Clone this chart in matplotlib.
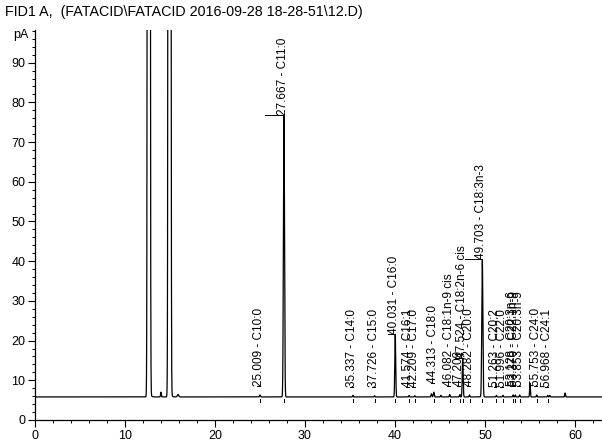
import numpy as np
import matplotlib
matplotlib.use("Agg")
import matplotlib.pyplot as plt
from matplotlib.ticker import MultipleLocator

plt.rcParams['font.family'] = ['Liberation Sans', 'DejaVu Sans']

title = "FID1 A,  (FATACID\\FATACID 2016-09-28 18-28-51\\12.D)"
y_unit = "pA"
baseline = 5.8

# Detected peaks: retention time (min), height above baseline (pA), width (min)
peak_rt = [12.65, 14.0, 14.95, 15.9, 25.009, 27.667, 35.337, 37.726, 40.031,
           41.574, 42.209, 44.05, 44.313, 45.1, 46.082, 47.209, 47.524, 48.282,
           49.703, 51.263, 51.996, 53.128, 53.370, 53.853, 55.0, 55.753,
           56.968, 57.2, 58.9]
peak_h = [4000, 1.2, 4000, 0.6, 0.5, 70.8, 0.4, 0.3, 15.6,
          0.4, 0.3, 0.8, 1.2, 0.4, 0.6, 0.6, 9.8, 0.5,
          34.4, 0.4, 0.4, 0.5, 0.5, 0.5, 3.5, 0.5,
          0.4, 0.4, 1.0]
peak_w = [0.07, 0.04, 0.07, 0.08, 0.05, 0.06, 0.04, 0.04, 0.05,
          0.04, 0.04, 0.05, 0.05, 0.04, 0.04, 0.04, 0.05, 0.04,
          0.06, 0.04, 0.04, 0.04, 0.04, 0.04, 0.04, 0.04,
          0.04, 0.04, 0.04]

# Labelled (identified) peaks
label_rt = [25.009, 27.667, 35.337, 37.726, 40.031, 41.574, 42.209, 44.313,
            46.082, 47.209, 47.524, 48.282, 49.703, 51.263, 51.996, 53.128,
            53.370, 53.853, 55.753, 56.968]
label_name = ["C10:0", "C11:0", "C14:0", "C15:0", "C16:0", "C16:1", "C17:0",
              "C18:0", "C18:1n-9 cis", "", "C18:2n-6 cis", "C20:0",
              "C18:3n-3", "C20:2", "C22:0", "C20:3n-6", "C22:1n-9",
              "C20:3n-9", "C24:0", "C24:1"]

# ---------------------------------------------------------------------------
t = np.linspace(0, 63, 12601)
signal = np.full_like(t, baseline)
for rt, h, w in zip(peak_rt, peak_h, peak_w):
    signal += h * np.exp(-0.5 * ((t - rt) / w) ** 2)
# solvent tailing after the two large solvent peaks
for rt in (peak_rt[0], peak_rt[2]):
    m = t > rt
    signal[m] += 2.5 * np.exp(-(t[m] - rt) / 0.12)

fig = plt.figure(figsize=(6.02, 4.43), dpi=100)
ax = fig.add_axes([0.058, 0.052, 0.942, 0.880])
ax.plot(t, signal, color='black', lw=0.9)

ax.set_xlim(0, 63)
ax.set_ylim(0, 98.2)
ax.spines['top'].set_visible(False)
ax.spines['right'].set_visible(False)
for s in ('left', 'bottom'):
    ax.spines[s].set_linewidth(0.9)
ax.xaxis.set_major_locator(MultipleLocator(10))
ax.xaxis.set_minor_locator(MultipleLocator(2))
ax.yaxis.set_major_locator(MultipleLocator(10))
ax.yaxis.set_minor_locator(MultipleLocator(2))
ax.tick_params(which='major', length=5, width=0.8, labelsize=9, pad=2)
ax.tick_params(which='minor', length=2.5, width=0.7)

ax.text(-0.012, 97.0, y_unit, transform=ax.get_yaxis_transform(), ha='right',
        va='center', fontsize=9)
fig.text(0.008, 0.972, title, ha='left', va='center', fontsize=10.3)

def height_at(x):
    return float(np.interp(x, t, signal))

raise_levels = {47.524: 15.6}
leader_len = {27.667: 2.1, 40.031: 0.8, 47.524: 0.9, 49.703: 1.9}
for rt, name in zip(label_rt, label_name):
    apex = height_at(rt)
    if rt in raise_levels:
        base = raise_levels[rt]
    elif apex < 12:
        base = apex + 2.2
    else:
        base = apex + 0.3
    txt = f"{rt:.3f} - {name}" if name else f"{rt:.3f}"
    ax.text(rt - 0.1, base, txt, rotation=90, ha='center', va='bottom',
            fontsize=8.5)
    L = leader_len.get(rt, 0.3)
    ax.plot([rt - L, rt], [base, base], color='black', lw=0.7)
    ax.plot([rt, rt], [baseline - 0.4, baseline - 1.4], color='black', lw=0.7)

fig.savefig("out.png", dpi=100)
